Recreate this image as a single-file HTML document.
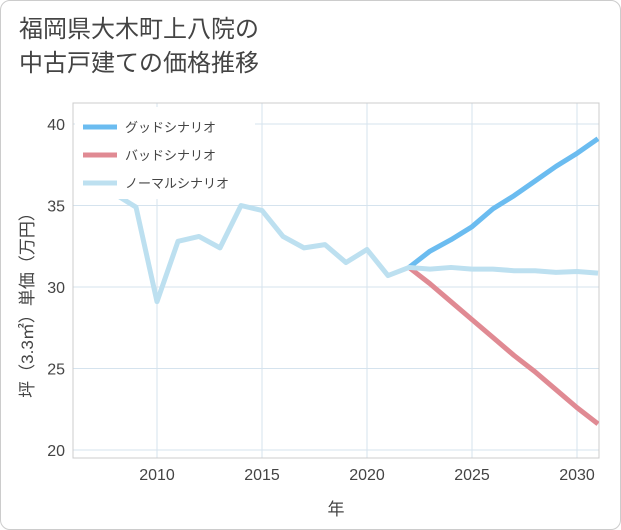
<!DOCTYPE html>
<html><head><meta charset="utf-8"><style>
body{margin:0;background:#fff;}
#wrap{position:relative;width:619px;height:528px;border:1px solid #ccc;border-radius:10px;background:#fff;overflow:hidden;}
#title{position:absolute;left:18px;top:12px;font:24px "Liberation Sans","Noto Sans CJK JP",sans-serif;color:#444;line-height:34px;}
svg{position:absolute;left:0;top:0;}
text{font-family:"Liberation Sans","Noto Sans CJK JP",sans-serif;}
</style></head><body>
<div id="wrap">
<div id="title">福岡県大木町上八院の<br>中古戸建ての価格推移</div>
<svg width="621" height="530" id="chart"></svg>
</div>
<script>
const xTicks=[2010,2015,2020,2025,2030];
const yTicks=[20,25,30,35,40];
const normalYears=[2008,2009,2010,2011,2012,2013,2014,2015,2016,2017,2018,2019,2020,2021,2022,2023,2024,2025,2026,2027,2028,2029,2030,2031];
const normalVals=[35.7,34.9,29.1,32.8,33.1,32.4,35.0,34.7,33.1,32.4,32.6,31.5,32.3,30.7,31.2,31.1,31.2,31.1,31.1,31.0,31.0,30.9,30.95,30.85];
const projYears=[2022,2023,2024,2025,2026,2027,2028,2029,2030,2031];
const goodVals=[31.2,32.2,32.9,33.7,34.8,35.6,36.5,37.4,38.2,39.1];
const badVals=[31.2,30.2,29.1,28.0,26.9,25.8,24.8,23.7,22.6,21.6];
const legendLabels=["グッドシナリオ","バッドシナリオ","ノーマルシナリオ"];
const colors=["#6bbcf0","#e08a93","#bde0f0"];
const L=72,R=598,T=102,B=457;
const X=y=>156+(y-2010)*21;
const Y=v=>449-(v-20)*16.3;
const NS="http://www.w3.org/2000/svg";
const svg=document.getElementById('chart');
function mk(t,a,p){const e=document.createElementNS(NS,t);for(const k in a)e.setAttribute(k,a[k]);(p||svg).appendChild(e);return e;}
const defs=mk('defs',{});const cp=mk('clipPath',{id:'c'},defs);mk('rect',{x:L,y:T,width:R-L,height:B-T},cp);
xTicks.forEach(t=>{const l=mk('line',{x1:X(t),x2:X(t),y1:T,y2:B,stroke:'#d5e3ee'});

const tx=mk('text',{x:X(t),y:B+22,'text-anchor':'middle','font-size':16,fill:'#444'});tx.textContent=t;
});
yTicks.forEach(t=>{const l=mk('line',{x1:L,x2:R,y1:Y(t),y2:Y(t),stroke:'#d5e3ee'});

const tx=mk('text',{x:L-8,y:Y(t)+6,'text-anchor':'end','font-size':16,fill:'#444'});tx.textContent=t;
});
const fr=mk('rect',{x:L,y:T,width:R-L,height:B-T,fill:'none',stroke:'#ccc'});

function line(ys,vs,c,name){const p=mk('polyline',{points:ys.map((y,i)=>X(y)+','+Y(vs[i])).join(' '),fill:'none',stroke:c,'stroke-width':5,'stroke-linejoin':'round','clip-path':'url(#c)'});
}
line(projYears,goodVals,colors[0],'good-scenario-line');
line(projYears,badVals,colors[1],'bad-scenario-line');
line(normalYears,normalVals,colors[2],'normal-scenario-line');
const lg=mk('rect',{x:L+2,y:T+4,width:180,height:92,fill:'#fff'});

legendLabels.forEach((s,i)=>{const y=126+i*28;
const l=mk('line',{x1:82,x2:116,y1:y,y2:y,stroke:colors[i],'stroke-width':5});

const t=mk('text',{x:124,y:y+5,'font-size':13,fill:'#444'});t.textContent=s;
});
const xt=mk('text',{x:335,y:514,'text-anchor':'middle','font-size':17,fill:'#444'});xt.textContent='年';

const yt=mk('text',{x:0,y:0,'text-anchor':'middle','font-size':17,fill:'#444',transform:'translate(32,300) rotate(-90)'});yt.textContent='坪（3.3㎡）単価（万円）';

</script>
</body></html>
